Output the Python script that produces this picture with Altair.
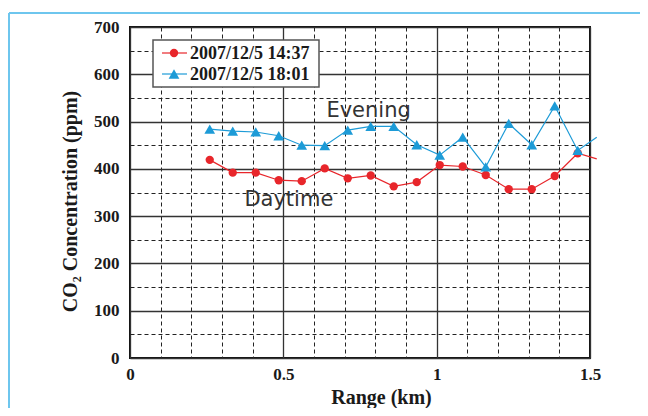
import altair as alt
import pandas as pd

# ---- data ----
range_km = [0.26, 0.335, 0.41, 0.485, 0.56, 0.635, 0.71, 0.785, 0.86, 0.935,
            1.01, 1.085, 1.16, 1.235, 1.31, 1.385, 1.46]
daytime_ppm = [419, 392, 392, 376, 374, 401, 380, 386, 363, 372,
               408, 405, 387, 357, 357, 385, 433]
evening_ppm = [484, 480, 478, 470, 450, 449, 482, 490, 490, 451,
               429, 467, 404, 496, 451, 533, 439]
edge_km = 1.522          # where the lines leave the frame on the right
daytime_edge = 421
evening_edge = 467

series_names = ["2007/12/5 14:37", "2007/12/5 18:01"]
series_colors = ["#e8262b", "#1d9bd7"]
series_shapes = ["circle", "triangle-up"]
series_sizes = [70, 115]

x_ticks = [0, 0.1, 0.2, 0.3, 0.4, 0.5, 0.6, 0.7, 0.8, 0.9, 1.0,
           1.1, 1.2, 1.3, 1.4, 1.5]
y_ticks = [0, 50, 100, 150, 200, 250, 300, 350, 400, 450, 500, 550, 600, 650, 700]

ann_text = ["Evening", "Daytime"]
ann_km = [0.778, 0.518]
ann_ppm = [509, 321]

# ---- tables ----
pts = pd.DataFrame({
    "series": [series_names[0]] * len(range_km) + [series_names[1]] * len(range_km),
    "km": range_km + range_km,
    "ppm": daytime_ppm + evening_ppm,
})
lines = pd.concat([
    pts,
    pd.DataFrame({"series": series_names, "km": [edge_km, edge_km],
                  "ppm": [daytime_edge, evening_edge]}),
], ignore_index=True)
ann = pd.DataFrame({"text": ann_text, "km": ann_km, "ppm": ann_ppm})
one = pd.DataFrame({"a": [0]})

SERIF = "Liberation Serif"
x_major = "abs(datum.value*2 - round(datum.value*2)) < 0.001"
y_major = "datum.value % 100 === 0"

xscale = alt.Scale(domain=[0, 1.5], nice=False)
yscale = alt.Scale(domain=[0, 700], nice=False)

x_enc = alt.X("km:Q", scale=xscale, axis=alt.Axis(
    values=x_ticks, tickCount=40, title="Range (km)", domain=False, ticks=False,
    labelExpr=f"{x_major} ? format(datum.value, '~g') : ''",
    labelFont=SERIF, labelFontSize=17, labelFontWeight="bold", labelColor="#1a1a1a",
    labelPadding=8, labelFlush=False, labelOverlap=False,
    grid=True,
    gridDash=alt.condition(x_major, alt.value([]), alt.value([4, 3])),
    gridColor=alt.condition(x_major, alt.value("#333"), alt.value("#222")),
    gridWidth=alt.condition(x_major, alt.value(1.3), alt.value(1)),
    titleFont=SERIF, titleFontSize=20, titleFontWeight="bold", titleColor="#1a1a1a",
    titleX=251, titleY=39, titleBaseline="middle", titleAlign="center",
))
y_enc = alt.Y("ppm:Q", scale=yscale, axis=alt.Axis(
    values=y_ticks, tickCount=40, title="CO₂ Concentration (ppm)", domain=False, ticks=False,
    labelExpr=f"{y_major} ? datum.label : ''",
    labelFont=SERIF, labelFontSize=17, labelFontWeight="bold", labelColor="#1a1a1a",
    labelPadding=11, labelOverlap=False,
    grid=True,
    gridDash=alt.condition(y_major, alt.value([]), alt.value([4, 3])),
    gridColor=alt.condition(y_major, alt.value("#333"), alt.value("#222")),
    gridWidth=alt.condition(y_major, alt.value(1.3), alt.value(1)),
    titleFont=SERIF, titleFontSize=20, titleFontWeight="bold", titleColor="#1a1a1a",
    titleX=-60, titleY=174, titleAngle=270, titleBaseline="middle", titleAlign="center",
))

color = alt.Color("series:N", scale=alt.Scale(domain=series_names, range=series_colors), legend=None)
shape = alt.Shape("series:N", scale=alt.Scale(domain=series_names, range=series_shapes), legend=None)
size = alt.Size("series:N", scale=alt.Scale(domain=series_names, range=series_sizes), legend=None)

line_layer = alt.Chart(lines).mark_line(strokeWidth=1.2, clip=False).encode(
    x=x_enc, y=y_enc, color=color, detail="series:N")
pt_layer = alt.Chart(pts).mark_point(filled=True, opacity=1).encode(
    x="km:Q", y="ppm:Q", color=color, shape=shape, size=size)
ann_layer = alt.Chart(ann).mark_text(
    font="DejaVu Sans", fontSize=21, color="#333", align="center", baseline="alphabetic"
).encode(x="km:Q", y="ppm:Q", text="text:N")

# ---- outer light-blue frame ----
frame_top = alt.Chart(one).mark_rule(color="#6ec6ee", strokeWidth=2).encode(
    x=alt.value(-121), x2=alt.value(520), y=alt.value(-14))
frame_left = alt.Chart(one).mark_rule(color="#6ec6ee", strokeWidth=2).encode(
    x=alt.value(-121), y=alt.value(-14), y2=alt.value(390))

# ---- legend box ----
leg_box = alt.Chart(one).mark_rect(fill="white", stroke="#555", strokeWidth=1.5).encode(
    x=alt.value(23), x2=alt.value(189), y=alt.value(13), y2=alt.value(60))
leg_layers = [leg_box]
for i, (name, col, shp, sz) in enumerate(zip(series_names, series_colors, series_shapes, series_sizes)):
    yy = 26 + 21 * i
    leg_layers.append(alt.Chart(one).mark_rule(color=col, strokeWidth=1.2).encode(
        x=alt.value(32), x2=alt.value(57), y=alt.value(yy)))
    leg_layers.append(alt.Chart(one).mark_point(filled=True, size=sz, opacity=1, color=col, shape=shp).encode(
        x=alt.value(44), y=alt.value(yy)))
    leg_layers.append(alt.Chart(one).mark_text(
        text=name, font=SERIF, fontSize=18, fontWeight="bold", color="#1a1a1a",
        align="left", baseline="middle").encode(x=alt.value(60), y=alt.value(yy + 1)))

chart = alt.layer(
    line_layer, pt_layer, ann_layer, frame_top, frame_left, *leg_layers
).properties(
    width=460, height=331,
    padding={"left": 122, "top": 19, "right": 50, "bottom": 50},
    autosize=alt.AutoSizeParams(type="none"),
).configure_view(stroke="#111", strokeWidth=2)

chart.save("out.html", embed_options={"renderer": "svg", "actions": False})
